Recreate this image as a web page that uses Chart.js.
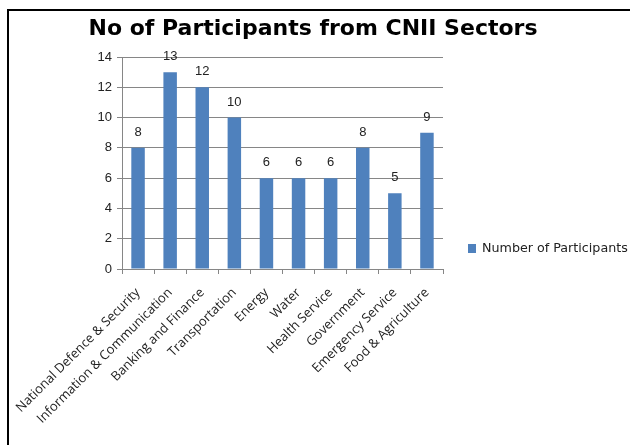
<!DOCTYPE html>
<html>
<head>
<meta charset="utf-8">
<script src="https://cdn.jsdelivr.net/npm/chart.js@4/dist/chart.umd.min.js"></script>
<style>
    html, body { margin: 0; padding: 0; background: #fff; }
    #wrap { position: relative; width: 630px; height: 445px; }
    #frame {
        position: absolute; left: 7px; top: 9px; right: 0; bottom: 0;
        border-left: 2px solid #000; border-top: 2px solid #000;
        pointer-events: none;
    }
</style>
</head>
<body>
<div id="wrap">
    <canvas id="participantsChart" width="630" height="445"></canvas>
    <div id="frame"></div>
</div>
<script>
const sectors = [
    'National Defence & Security',
    'Information & Communication',
    'Banking and Finance',
    'Transportation',
    'Energy',
    'Water',
    'Health Service',
    'Government',
    'Emergency Service',
    'Food & Agriculture'
];
const participants = [8, 13, 12, 10, 6, 6, 6, 8, 5, 9];
const seriesName = 'Number of Participants';
const chartTitle = 'No of Participants from CNII Sectors';
const yTicks = [0, 2, 4, 6, 8, 10, 12, 14];

const barColor = '#4F81BD';
const gridColor = '#868686';

// value labels above each bar
const valueLabels = {
    id: 'valueLabels',
    afterDatasetsDraw(chart) {
        const ctx = chart.ctx;
        const meta = chart.getDatasetMeta(0);
        ctx.save();
        ctx.font = '13px "Liberation Sans", Arial, sans-serif';
        ctx.fillStyle = '#222';
        ctx.textAlign = 'center';
        ctx.textBaseline = 'bottom';
        meta.data.forEach((bar, i) => {
            ctx.fillText(String(chart.data.datasets[0].data[i]), bar.x, bar.y - 9);
        });
        ctx.restore();
    }
};

// title centred on the whole picture, not just the left part
const centredTitle = {
    id: 'centredTitle',
    afterDraw(chart) {
        const ctx = chart.ctx;
        ctx.save();
        ctx.font = 'bold 22px "DejaVu Sans", sans-serif';
        ctx.fillStyle = '#000';
        ctx.textAlign = 'center';
        ctx.textBaseline = 'alphabetic';
        ctx.fillText(chartTitle, 313, 35);
        ctx.restore();
    }
};

// legend on the right, lower than the built-in one would sit
const sideLegend = {
    id: 'sideLegend',
    afterDraw(chart) {
        const ctx = chart.ctx;
        const ds = chart.data.datasets[0];
        ctx.save();
        ctx.fillStyle = ds.backgroundColor;
        ctx.fillRect(468, 244, 8, 9);
        ctx.font = '12.7px "DejaVu Sans", sans-serif';
        ctx.fillStyle = '#222';
        ctx.textBaseline = 'middle';
        ctx.fillText(ds.label, 482, 249);
        ctx.restore();
    }
};

new Chart(document.getElementById('participantsChart'), {
    type: 'bar',
    data: {
        labels: sectors,
        datasets: [{
            label: seriesName,
            data: participants,
            backgroundColor: barColor,
            categoryPercentage: 1,
            barPercentage: 0.42
        }]
    },
    options: {
        responsive: false,
        animation: false,
        layout: { padding: { left: 0, right: 187, top: 57, bottom: 0 } },
        plugins: {
            legend: { display: false },
            tooltip: { enabled: false },
            title: { display: false }
        },
        scales: {
            x: {
                grid: {
                    drawOnChartArea: false,
                    drawTicks: true,
                    tickLength: 5,
                    color: gridColor
                },
                border: { color: gridColor },
                ticks: {
                    color: '#222',
                    font: { family: '"Open Sans", sans-serif', size: 13 },
                    minRotation: 45,
                    maxRotation: 45,
                    autoSkip: false,
                    padding: 11
                },
                afterFit(scale) {
                    scale.height = 176;
                    scale.paddingLeft = 0;
                    scale.paddingRight = 0;
                }
            },
            y: {
                min: 0,
                max: 14,
                afterBuildTicks(scale) {
                    scale.ticks = yTicks.map(v => ({ value: v }));
                },
                grid: { color: gridColor, tickLength: 5 },
                border: { color: gridColor },
                ticks: {
                    color: '#222',
                    font: { family: '"Liberation Sans", Arial, sans-serif', size: 13 },
                    padding: 5
                },
                afterFit(scale) {
                    scale.width = 122;
                }
            }
        }
    },
    plugins: [valueLabels, centredTitle, sideLegend]
});
</script>
</body>
</html>
